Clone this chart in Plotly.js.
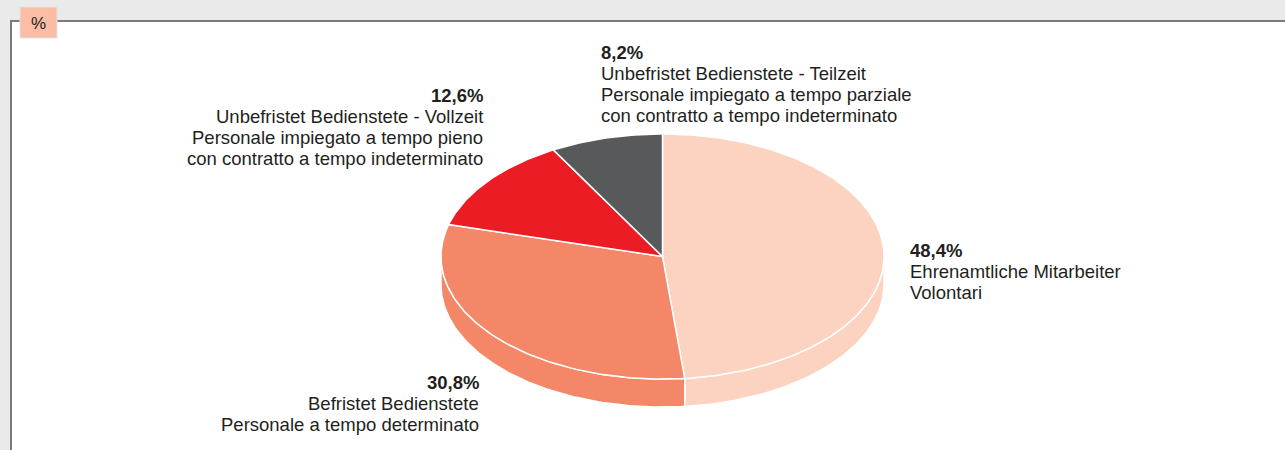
<!DOCTYPE html>
<html>
<head>
<meta charset="utf-8">
<script src="https://cdn.plot.ly/plotly-3.0.1.min.js"></script>
<style>html,body{margin:0;padding:0;background:#e9eae9;}#chart{width:1285px;height:450px;}</style>
</head>
<body>
<div id="chart"></div>
<script>
// ---- data ----
const values = [48.4, 30.8, 12.6, 8.2];
const labelsDE = ["Ehrenamtliche Mitarbeiter", "Befristet Bedienstete", "Unbefristet Bedienstete - Vollzeit", "Unbefristet Bedienstete - Teilzeit"];
const labelsIT = ["Volontari", "Personale a tempo determinato", "Personale impiegato a tempo pieno\ncon contratto a tempo indeterminato", "Personale impiegato a tempo parziale\ncon contratto a tempo indeterminato"];
const colors = ["#fcd2c0", "#f48767", "#ec1c24", "#58595b"];
const unitLabel = "%";

// ---- geometry (layout, not data) ----
const cx = 662.5, cy = 256.5, rx = 221.5, ry = 122.5, depth = 28;
const lineGap = 21.2;
const labelPos = [
  {x: 909, y: 250, xa: "left"},
  {x: 480, y: 382, xa: "right"},
  {x: 484, y: 95, xa: "right"},
  {x: 600, y: 52, xa: "left"}
];
const FONT = "Liberation Sans, Arial, sans-serif";

function pt(f, dy) {
  const t = 2 * Math.PI * f;
  return [cx + rx * Math.sin(t), cy - ry * Math.cos(t) + (dy || 0)];
}
function arc(f0, f1, dy) {
  const n = Math.max(2, Math.ceil(Math.abs(f1 - f0) * 400));
  const out = [];
  for (let i = 0; i <= n; i++) out.push(pt(f0 + (f1 - f0) * i / n, dy));
  return out;
}

const total = values.reduce((a, b) => a + b, 0);
const traces = [];
const bounds = [];
let acc = 0;
values.forEach(v => { bounds.push([acc / total, (acc + v) / total]); acc += v; });

// side walls (front half only)
bounds.forEach((b, i) => {
  const a0 = Math.max(b[0], 0.25), a1 = Math.min(b[1], 0.75);
  if (a1 <= a0) return;
  const pts = arc(a0, a1, 0).concat(arc(a1, a0, depth));
  pts.push(pts[0]);
  traces.push({
    type: "scatter", mode: "lines", fill: "toself", fillcolor: colors[i],
    x: pts.map(p => p[0]), y: pts.map(p => p[1]),
    line: {color: "#ffffff", width: 1.5}, hoverinfo: "skip", showlegend: false
  });
});
// top faces
bounds.forEach((b, i) => {
  const pts = [[cx, cy]].concat(arc(b[0], b[1], 0));
  pts.push([cx, cy]);
  traces.push({
    type: "scatter", mode: "lines", fill: "toself", fillcolor: colors[i],
    x: pts.map(p => p[0]), y: pts.map(p => p[1]),
    line: {color: "#ffffff", width: 1.5}, hoverinfo: "skip", showlegend: false
  });
});

const fmt = v => v.toFixed(1).replace(".", ",") + "%";
const annotations = [];
values.forEach((v, i) => {
  const lines = ["<b>" + fmt(v) + "</b>", labelsDE[i]].concat(labelsIT[i].split("\n"));
  lines.forEach((t, k) => {
    annotations.push({
      x: labelPos[i].x, y: labelPos[i].y + k * lineGap, xref: "x", yref: "y",
      xanchor: labelPos[i].xa, yanchor: "middle", showarrow: false, borderpad: 0,
      text: t, font: {family: FONT, size: 18.5, color: "#231f20"}
    });
  });
});
annotations.push({
  x: 38.5, y: 23, xref: "x", yref: "y", showarrow: false, text: unitLabel,
  font: {family: FONT, size: 17, color: "#231f20"}
});

const layout = {
  width: 1285, height: 450,
  margin: {l: 0, r: 0, t: 0, b: 0},
  paper_bgcolor: "#e9eae9", plot_bgcolor: "rgba(0,0,0,0)",
  xaxis: {range: [0, 1285], visible: false, fixedrange: true},
  yaxis: {range: [450, 0], visible: false, fixedrange: true},
  shapes: [
    {type: "rect", xref: "x", yref: "y", x0: 11, x1: 1300, y0: 21, y1: 470,
     fillcolor: "#ffffff", line: {color: "#7a7a7a", width: 2}, layer: "below"},
    {type: "rect", xref: "x", yref: "y", x0: 20, x1: 57, y0: 7, y1: 38,
     fillcolor: "#fbbda5", line: {color: "#e2e2e2", width: 1}, layer: "below"}
  ],
  annotations: annotations,
  showlegend: false
};

Plotly.newPlot("chart", traces, layout, {staticPlot: true, displayModeBar: false});
</script>
</body>
</html>
